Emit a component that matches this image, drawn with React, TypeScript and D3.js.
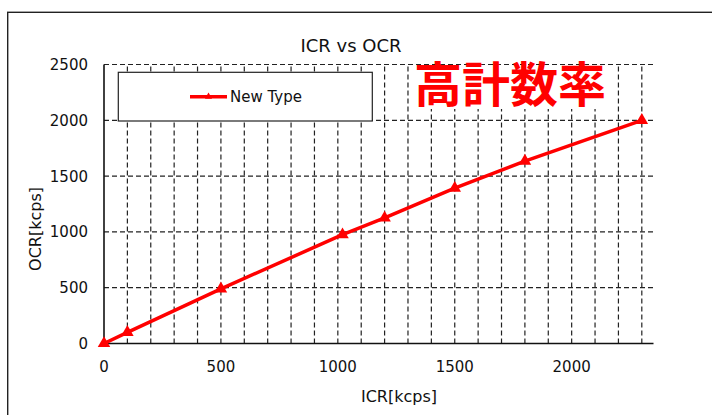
import React, { useEffect, useRef } from "react"
import * as d3 from "d3"

const WIDTH = 712
const HEIGHT = 415

const icrValues = [0, 100, 500, 1020, 1200, 1500, 1800, 2300]
const ocrValues = [0, 100, 490, 975, 1125, 1392, 1635, 2000]
const xTicks = [0, 500, 1000, 1500, 2000]
const yTicks = [0, 500, 1000, 1500, 2000, 2500]
const xGrid = d3.range(100, 2301, 100)
const yGrid = [500, 1000, 1500, 2000, 2500]

const TITLE = "ICR vs OCR"
const X_LABEL = "ICR[kcps]"
const Y_LABEL = "OCR[kcps]"
const SERIES_NAME = "New Type"
const NOTE = "高計数率"

const LATIN_FONT = "'DejaVu Sans', Verdana, sans-serif"
const RED = "#ff0000"

const App = () => {
	const svgRef = useRef(null)

	useEffect(() => {
		if (!svgRef.current) return
		const svg = d3.select(svgRef.current)
		svg.selectAll("*").remove()

		const plot = { left: 104, right: 653.5, top: 64.5, bottom: 343.5 }

		const x = d3.scaleLinear().domain([0, 2350]).range([plot.left, plot.right])
		const y = d3.scaleLinear().domain([0, 2500]).range([plot.bottom, plot.top])

		svg.append("rect")
			.attr("width", WIDTH)
			.attr("height", HEIGHT)
			.attr("fill", "#fff")

		// outer chart frame, runs off the right and bottom edges
		svg.append("rect")
			.attr("x", 7.7)
			.attr("y", 12.3)
			.attr("width", 720)
			.attr("height", 420)
			.attr("fill", "none")
			.attr("stroke", "#222")
			.attr("stroke-width", 1.4)

		svg.append("text")
			.attr("x", 351)
			.attr("y", 51.5)
			.attr("text-anchor", "middle")
			.style("font-family", LATIN_FONT)
			.style("font-size", "18px")
			.style("fill", "#111")
			.text(TITLE)

		// dashed grid
		const grid = svg.append("g")
			.attr("stroke", "#222")
			.attr("stroke-width", 1.2)
			.attr("stroke-dasharray", "5,3")

		grid.selectAll(".vgrid")
			.data(xGrid)
			.join("line")
			.attr("x1", (d) => x(d))
			.attr("x2", (d) => x(d))
			.attr("y1", plot.bottom)
			.attr("y2", plot.top)

		grid.selectAll(".hgrid")
			.data(yGrid)
			.join("line")
			.attr("x1", plot.left)
			.attr("x2", plot.right)
			.attr("y1", (d) => y(d))
			.attr("y2", (d) => y(d))

		// axes lines
		svg.append("line")
			.attr("x1", plot.left)
			.attr("x2", plot.left)
			.attr("y1", plot.top)
			.attr("y2", plot.bottom)
			.attr("stroke", "#111")
			.attr("stroke-width", 1.6)
		svg.append("line")
			.attr("x1", plot.left)
			.attr("x2", plot.right)
			.attr("y1", plot.bottom)
			.attr("y2", plot.bottom)
			.attr("stroke", "#111")
			.attr("stroke-width", 1.6)

		svg.append("g")
			.selectAll("text")
			.data(yTicks)
			.join("text")
			.attr("x", 88)
			.attr("y", (d) => y(d))
			.attr("dy", "0.36em")
			.attr("text-anchor", "end")
			.style("font-family", LATIN_FONT)
			.style("font-size", "15px")
			.style("fill", "#111")
			.text((d) => d)

		svg.append("g")
			.selectAll("text")
			.data(xTicks)
			.join("text")
			.attr("x", (d) => x(d))
			.attr("y", 372)
			.attr("text-anchor", "middle")
			.style("font-family", LATIN_FONT)
			.style("font-size", "15px")
			.style("fill", "#111")
			.text((d) => d)

		svg.append("text")
			.attr("x", 399)
			.attr("y", 401.5)
			.attr("text-anchor", "middle")
			.style("font-family", LATIN_FONT)
			.style("font-size", "16px")
			.style("fill", "#111")
			.text(X_LABEL)

		svg.append("text")
			.attr("transform", "translate(41,229) rotate(-90)")
			.attr("text-anchor", "middle")
			.style("font-family", LATIN_FONT)
			.style("font-size", "16px")
			.style("fill", "#111")
			.text(Y_LABEL)

		// legend box
		svg.append("rect")
			.attr("x", 118.3)
			.attr("y", 72.3)
			.attr("width", 254)
			.attr("height", 48.7)
			.attr("fill", "#fff")
			.attr("stroke", "#222")
			.attr("stroke-width", 1.2)
		svg.append("line")
			.attr("x1", 190)
			.attr("x2", 227)
			.attr("y1", 96.7)
			.attr("y2", 96.7)
			.attr("stroke", RED)
			.attr("stroke-width", 3.5)
		svg.append("path")
			.attr("d", d3.symbol(d3.symbolTriangle, 22)())
			.attr("transform", "translate(208.5,96.7)")
			.attr("fill", RED)
		svg.append("text")
			.attr("x", 230)
			.attr("y", 102)
			.style("font-family", LATIN_FONT)
			.style("font-size", "15px")
			.style("fill", "#111")
			.text(SERIES_NAME)

		// red note with white box behind it
		svg.append("rect")
			.attr("x", 411)
			.attr("y", 66)
			.attr("width", 198)
			.attr("height", 43)
			.attr("fill", "#fff")
		svg.append("text")
			.attr("x", 510)
			.attr("y", 102)
			.attr("text-anchor", "middle")
			.style("font-family", "'Noto Sans CJK JP', sans-serif")
			.style("font-weight", 700)
			.style("font-size", "48px")
			.style("fill", RED)
			.text(NOTE)

		// series
		const points = icrValues.map((v, i) => [v, ocrValues[i]])
		const line = d3.line()
			.x((d) => x(d[0]))
			.y((d) => y(d[1]))

		svg.append("path")
			.datum(points)
			.attr("fill", "none")
			.attr("stroke", RED)
			.attr("stroke-width", 3.5)
			.attr("stroke-linejoin", "round")
			.attr("d", line)

		svg.append("g")
			.selectAll("path")
			.data(points)
			.join("path")
			.attr("d", d3.symbol(d3.symbolTriangle, 68)())
			.attr("transform", (d) => `translate(${x(d[0])},${y(d[1])})`)
			.attr("fill", RED)
	}, [])

	return (
		<svg
			ref={svgRef}
			width={WIDTH}
			height={HEIGHT}
			style={{ position: "absolute", left: 0, top: 0, display: "block" }}
		></svg>
	)
}

export default App
